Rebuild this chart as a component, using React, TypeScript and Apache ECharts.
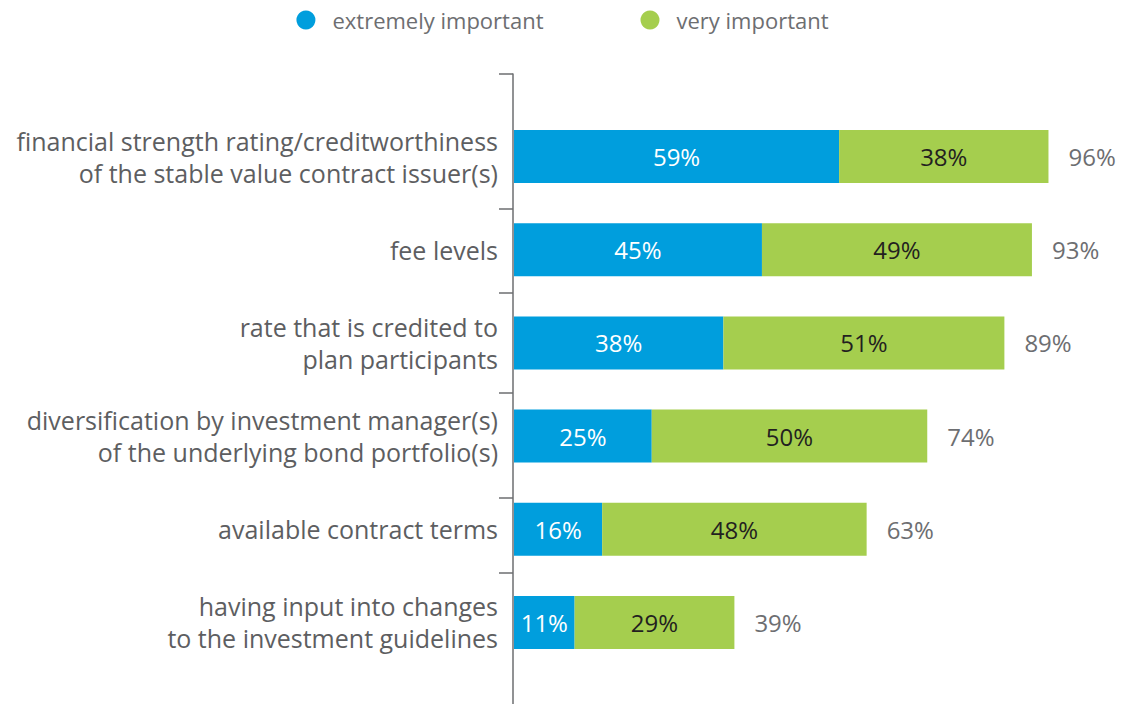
import React, { useEffect, useRef } from "react";
import * as echarts from "echarts";

const categories = [
  "financial strength rating/creditworthiness\nof the stable value contract issuer(s)",
  "fee levels",
  "rate that is credited to\nplan participants",
  "diversification by investment manager(s)\nof the underlying bond portfolio(s)",
  "available contract terms",
  "having input into changes\nto the investment guidelines",
];
const seriesNames = ["extremely important", "very important"];
const extremelyImportant = [59, 45, 38, 25, 16, 11];
const veryImportant = [38, 49, 51, 50, 48, 29];
const totalLabels = ["96%", "93%", "89%", "74%", "63%", "39%"];
const totalSpacer = [0, 0, 0, 0, 0, 0];

const FONT = "Open Sans";
const BLUE = "#009edd";
const GREEN = "#a5ce4e";
const GRAY = "#5d5e61";
const AXIS = "#6d6e71";

export default function App() {
  const ref = useRef<HTMLDivElement>(null);
  useEffect(() => {
    if (!ref.current) return;
    const chart = echarts.init(ref.current, undefined, { renderer: "svg" });
    chart.setOption({
      animation: false,
      textStyle: { fontFamily: FONT },
      legend: {
        data: seriesNames,
        top: 4,
        left: "center",
        icon: "circle",
        itemWidth: 19,
        itemHeight: 19,
        itemGap: 97,
        textStyle: { fontSize: 22, color: AXIS, fontFamily: FONT, padding: [0, 0, 0, 12] },
      },
      grid: [
        { left: 514, width: 551, top: 110, height: 559 },
        { left: 513, width: 20, top: 74, bottom: 0 },
      ],
      xAxis: [
        { type: "value", min: 0, max: 100, show: false },
        { type: "value", gridIndex: 1, show: false },
      ],
      yAxis: [
        {
          type: "category",
          inverse: true,
          data: categories,
          axisLine: { show: false },
          axisTick: { show: false },
          axisLabel: {
            fontSize: 25,
            color: GRAY,
            margin: 16,
            lineHeight: 32,
            fontFamily: FONT,
            align: "right",
          },
        },
        {
          type: "value",
          gridIndex: 1,
          inverse: true,
          min: 0,
          max: 630,
          axisLine: { show: true, lineStyle: { color: AXIS, width: 1.5 } },
          axisTick: {
            show: true,
            length: 14,
            customValues: [0, 135, 219, 319, 424, 499],
            lineStyle: { color: AXIS, width: 1.5 },
          },
          axisLabel: { show: false },
          splitLine: { show: false },
        },
      ],
      series: [
        {
          name: seriesNames[0],
          type: "bar",
          stack: "total",
          barWidth: 53,
          data: extremelyImportant,
          itemStyle: { color: BLUE },
          label: {
            show: true,
            position: "inside",
            formatter: "{c}%",
            color: "#ffffff",
            fontSize: 24,
            fontFamily: FONT,
          },
        },
        {
          name: seriesNames[1],
          type: "bar",
          stack: "total",
          barWidth: 53,
          data: veryImportant,
          itemStyle: { color: GREEN },
          label: {
            show: true,
            position: "inside",
            formatter: "{c}%",
            color: "#231f20",
            fontSize: 24,
            fontFamily: FONT,
          },
        },
        {
          name: "total",
          type: "bar",
          stack: "total",
          barWidth: 53,
          data: totalSpacer,
          itemStyle: { color: "transparent" },
          label: {
            show: true,
            position: "right",
            distance: 20,
            formatter: (p: any) => totalLabels[p.dataIndex],
            color: AXIS,
            fontSize: 24,
            fontFamily: FONT,
          },
        },
      ],
    });
    return () => chart.dispose();
  }, []);
  return (
    <div
      ref={ref}
      style={{ position: "absolute", left: 0, top: 0, width: 1125, height: 704, background: "#fff" }}
    />
  );
}
